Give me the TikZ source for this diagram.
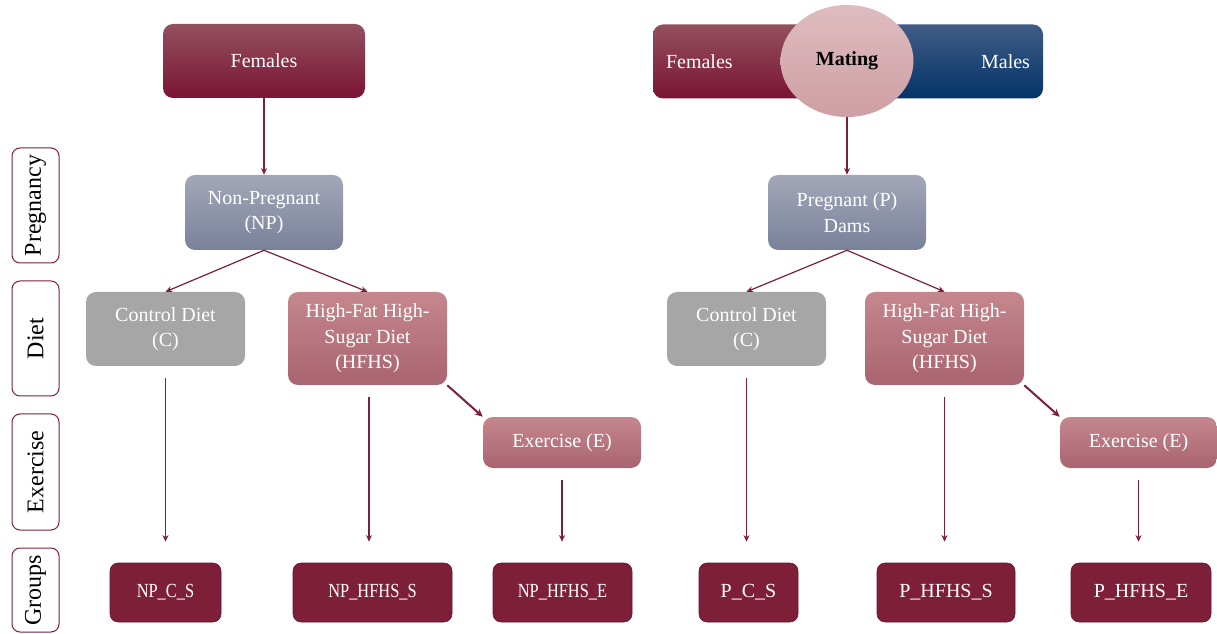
\documentclass[tikz,border=0pt]{standalone}
\usepackage{fontspec}
\setmainfont{Liberation Serif}
\newfontfamily\narrowserif[FakeStretch=0.82]{Liberation Serif}
\usepackage{tikz}
\usetikzlibrary{arrows.meta, calc, positioning, shapes.geometric}
\definecolor{wine}{HTML}{7E1F3A}
\definecolor{winetop}{HTML}{93505F}
\definecolor{winebot}{HTML}{7A1434}
\definecolor{navytop}{HTML}{415C85}
\definecolor{navybot}{HTML}{023468}
\definecolor{slatetop}{HTML}{A3A7B8}
\definecolor{slatebot}{HTML}{79819A}
\definecolor{rosetop}{HTML}{C5878E}
\definecolor{rosebot}{HTML}{A86470}
\definecolor{blushtop}{HTML}{DEBCBF}
\definecolor{blushbot}{HTML}{CE9FA5}
\definecolor{ctlgray}{HTML}{A6A6A6}
\tikzset{
  basebox/.style   = {rectangle, rounded corners=7.5pt, text=white, align=center,
                      font=\fontsize{15}{19}\selectfont, inner sep=2pt},
  sexbox/.style    = {basebox, top color=winetop, bottom color=winebot,
                      minimum height=55.5pt},
  malebox/.style   = {basebox, top color=navytop, bottom color=navybot,
                      minimum height=55.5pt},
  matingnode/.style= {ellipse, top color=blushtop, bottom color=blushbot,
                      minimum width=99.75pt, minimum height=84pt, inner sep=0pt,
                      font=\fontsize{15}{19}\selectfont\bfseries, text=black},
  pregbox/.style   = {basebox, top color=slatetop, bottom color=slatebot,
                      minimum width=118.5pt, minimum height=56.25pt},
  ctlbox/.style    = {basebox, fill=ctlgray, minimum width=119.25pt,
                      minimum height=55.5pt},
  hfhsbox/.style   = {basebox, top color=rosetop, bottom color=rosebot,
                      minimum width=119.25pt, minimum height=69.75pt},
  exbox/.style     = {basebox, top color=rosetop, bottom color=rosebot,
                      minimum width=118.5pt, minimum height=38.25pt},
  groupbox/.style  = {basebox, rounded corners=6pt, fill=wine,
                      draw=wine!75!black, line width=0.4pt, minimum height=44.25pt},
  npgroupbox/.style= {groupbox, font=\narrowserif\fontsize{15}{19}\selectfont},
  sidelabel/.style = {rectangle, rounded corners=6pt, draw=wine, line width=0.75pt,
                      fill=white, rotate=90, minimum height=35.25pt,
                      font=\fontsize{18}{20}\selectfont, inner sep=0pt},
  flowarrow/.style = {draw=wine, line width=0.9pt, -{Stealth[length=5pt, width=4.5pt]}},
  boldarrow/.style = {draw=wine, line width=1.5pt, -{Stealth[length=6pt, width=5.5pt]}},
  droparrow/.style = {flowarrow, shorten <=9pt, shorten >=15.75pt},
}

\begin{document}
\begin{tikzpicture}[x=0.75pt, y=-0.75pt]
  \useasboundingbox (0,0) rectangle (1217,634);

  % row labels
  \node[sidelabel, minimum width=86.25pt] (lpreg) at (35.5,205.5) {Pregnancy};
  \node[sidelabel, minimum width=86.25pt] (ldiet) at (35.5,338.5) {Diet};
  \node[sidelabel, minimum width=87pt] (lex) at (35.5,472) {Exercise};
  \node[sidelabel, minimum width=63pt] (lgrp) at (35.5,590) {Groups};

  % non-pregnant branch
  \node[sexbox, minimum width=151.5pt] (fem1) at (264,61) {Females};
  \node[pregbox] (np) at (264,212.5) {Non-Pregnant\\(NP)};
  \node[ctlbox] (ctl1) at (165.5,329) {Control Diet\\(C)};
  \node[hfhsbox] (hf1) at (367.5,338.5) {High-Fat High-\\Sugar Diet\\(HFHS)};
  \node[exbox] (ex1) at (562,442.5) {Exercise (E)};
  \node[npgroupbox, minimum width=83.25pt] (g1) at (165.5,592.5) {NP\_C\_S};
  \node[npgroupbox, minimum width=119.25pt] (g2) at (372.5,592.5) {NP\_HFHS\_S};
  \node[npgroupbox, minimum width=104.25pt] (g3) at (562.5,592.5) {NP\_HFHS\_E};

  \draw[flowarrow] (fem1) -- (np);
  \draw[flowarrow] (np.south) -- (ctl1.north);
  \draw[flowarrow] (np.south) -- (hf1.north);
  \draw[boldarrow] (hf1.south east) -- (ex1.north west);
  \draw[droparrow] (ctl1.south) -- (ctl1.south |- g1.north);
  \draw[droparrow] ($(hf1.south)+(1.5,0)$) -- ($(hf1.south |- g2.north)+(1.5,0)$);
  \draw[droparrow] (ex1.south) -- (ex1.south |- g3.north);

  % pregnant branch
  \node[sexbox, minimum width=145.5pt, text width=126pt, align=left,
    inner xsep=9.75pt] (fem2) at (750,61.5) {Females};
  \node[malebox, minimum width=147pt, text width=127.5pt, align=right,
    inner xsep=9.75pt] (male) at (945,61.5) {Males};
  \node[matingnode] (mate) at (847,61) {Mating};
  \node[pregbox] (pr) at (847,212.5) {Pregnant (P)\\Dams};
  \node[ctlbox] (ctl2) at (746.5,329) {Control Diet\\(C)};
  \node[hfhsbox] (hf2) at (944.5,338.5) {High-Fat High-\\Sugar Diet\\(HFHS)};
  \node[exbox, minimum width=117.75pt] (ex2) at (1138.5,442.5) {Exercise (E)};
  \node[groupbox, minimum width=74.25pt] (g4) at (748.5,592.5) {P\_C\_S};
  \node[groupbox, minimum width=103.5pt] (g5) at (946,592.5) {P\_HFHS\_S};
  \node[groupbox, minimum width=105pt] (g6) at (1141,592.5) {P\_HFHS\_E};

  \draw[flowarrow] (mate) -- (pr);
  \draw[flowarrow] (pr.south) -- (ctl2.north);
  \draw[flowarrow] (pr.south) -- (hf2.north);
  \draw[boldarrow] (hf2.south east) -- (ex2.north west);
  \draw[droparrow] (ctl2.south) -- (ctl2.south |- g4.north);
  \draw[droparrow] (hf2.south) -- (hf2.south |- g5.north);
  \draw[droparrow] (ex2.south) -- (ex2.south |- g6.north);
\end{tikzpicture}
\end{document}
